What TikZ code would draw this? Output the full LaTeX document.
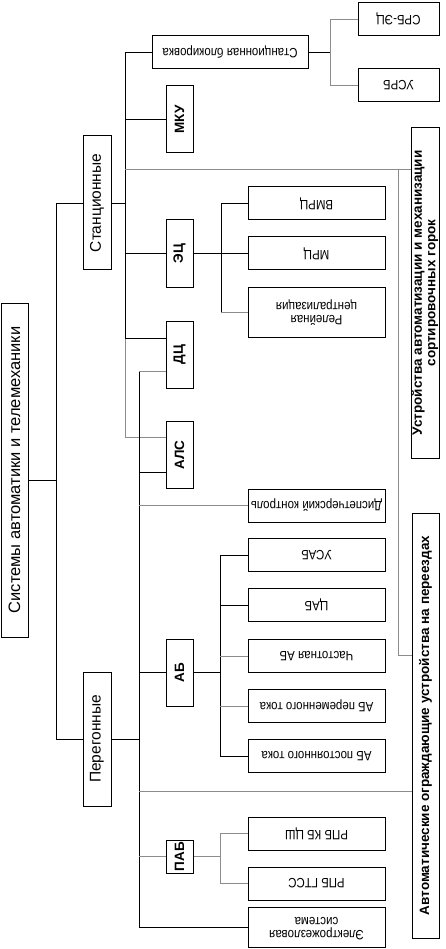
\documentclass[tikz,border=0pt]{standalone}
\usepackage{fontspec}
\setmainfont{Liberation Sans}
\newfontfamily\narrowfont[FakeStretch=0.85]{Liberation Sans}
\usepackage{graphicx}
\newcommand{\vtext}[1]{\rotatebox{90}{#1}}
\newcommand{\utext}[1]{\rotatebox{180}{#1}}
\newcommand{\twolines}[2]{\begin{tabular}{@{}c@{}}#1\\#2\end{tabular}}

\begin{document}
\begin{tikzpicture}[x=1pt, y=1pt,
        box/.style={draw, rectangle, inner sep=0pt, line width=1pt},
        rootbox/.style={box, minimum width=27, minimum height=334, font=\fontsize{16.5}{18}\selectfont},
        groupbox/.style={box, minimum width=28, minimum height=134, font=\fontsize{15.5}{17}\selectfont},
        sysbox/.style={box, minimum width=27, minimum height=67, font=\bfseries\fontsize{13.5}{15}\selectfont},
        leafbox/.style={box, minimum width=137, minimum height=33, font=\narrowfont\fontsize{13.5}{13}\selectfont},
        sidebox/.style={box, minimum width=27, font=\bfseries\fontsize{13.5}{13.5}\selectfont},
        link/.style={line width=0.8pt, black},
        glink/.style={line width=0.8pt, black!45}
    ]
        \useasboundingbox (0,0) rectangle (445,-949);

        % Корень
        \node[rootbox] (root) at (14.5,-470) {\vtext{Системы автоматики и телемеханики}};

        % Станционные и перегонные
        \node[groupbox] (stanc) at (97,-203) {\vtext{Станционные}};
        \node[groupbox] (pereg) at (97,-739) {\vtext{Перегонные}};

        % ---------------- СТАНЦИОННЫЕ ----------------
        \node[leafbox, minimum width=156] (sb) at (230,-52.5) {\utext{Станционная блокировка}};
        \node[leafbox, minimum width=81] (srbec) at (398.5,-19) {\utext{СРБ-ЭЦ}};
        \node[leafbox, minimum width=81] (usrb) at (398.5,-85.5) {\utext{УСРБ}};
        \node[sysbox] (mku) at (179.5,-119.5) {\vtext{МКУ}};
        \node[sysbox] (ec) at (179.5,-253.5) {\vtext{ЭЦ}};
        \node[leafbox] (vmrc) at (316.5,-203.5) {\utext{ВМРЦ}};
        \node[leafbox] (mrc) at (316.5,-253.5) {\utext{МРЦ}};
        \node[leafbox, minimum height=50] (rc) at (316.5,-312) {\utext{\twolines{Релейная}{централизация}}};
        \node[sysbox] (dc) at (179.5,-354.5) {\vtext{ДЦ}};
        \node[sysbox] (als) at (179.5,-455) {\vtext{АЛС}};

        % ---------------- ПЕРЕГОННЫЕ ----------------
        \node[leafbox] (disp) at (316.5,-505.5) {\utext{Диспетчерский контроль}};
        \node[sysbox] (ab) at (179.5,-672.5) {\vtext{АБ}};
        \node[leafbox] (usab) at (316.5,-555) {\utext{УСАБ}};
        \node[leafbox] (cab) at (316.5,-605) {\utext{ЦАБ}};
        \node[leafbox] (chab) at (316.5,-656) {\utext{Частотная АБ}};
        \node[leafbox] (abper) at (316.5,-706) {\utext{АБ переменного тока}};
        \node[leafbox] (abpost) at (316.5,-756) {\utext{АБ постоянного тока}};
        \node[sysbox, minimum height=33] (pab) at (179.5,-856.5) {\vtext{ПАБ}};
        \node[leafbox] (rpbkb) at (316.5,-833.5) {\utext{РПБ КБ ЦШ}};
        \node[leafbox] (rpbgt) at (316.5,-883.5) {\utext{РПБ ГТСС}};
        \node[leafbox, minimum height=40] (ejs) at (316.5,-927) {\utext{\twolines{Электрожезловая}{система}}};

        % Правые блоки
        \node[sidebox, minimum height=330] (gorki) at (425.5,-293) {\vtext{\twolines{Устройства автоматизации и механизации}{сортировочных горок}}};
        \node[sidebox, minimum height=425] (pereezd) at (425.5,-725.5) {\vtext{Автоматические ограждающие устройства на переездах}};

        % ================= ЛИНИИ =================
        \coordinate (t0) at (56,-480);
        \coordinate (ts) at (125,0);
        \coordinate (tp) at (139,0);
        \coordinate (tsb) at (330,0);
        \coordinate (tec) at (221,0);
        \coordinate (tab) at (220,0);
        \coordinate (tg) at (125,-169);
        \coordinate (tgd) at (398,-169);
        \coordinate (dcs) at ([yshift=16.5]dc.west);
        \coordinate (dcp) at ([yshift=-16.5]dc.west);
        \coordinate (alss) at ([yshift=18]als.west);
        \coordinate (alsp) at ([yshift=-17]als.west);
        \coordinate (pz1) at ([yshift=70.5]pereezd.west);
        \coordinate (pz2) at ([yshift=-65.5]pereezd.west);

        % Корень
        \draw[link] (root.east |- t0) -- (t0);
        \draw[link] (stanc.west -| t0) -- (pereg.west -| t0);
        \draw[link] (stanc.west -| t0) -- (stanc.west);
        \draw[link] (pereg.west -| t0) -- (pereg.west);

        % Станционные
        \draw[link] (stanc.east) -- (stanc.east -| ts);
        \draw[link] (sb.west -| ts) -- (dcs -| ts);
        \draw[glink] (dcs -| ts) -- (alss -| ts);
        \draw[link] (sb.west -| ts) -- (sb.west);
        \draw[link] (mku.west -| ts) -- (mku.west);
        \draw[link] (ec.west -| ts) -- (ec.west);
        \draw[link] (dcs -| ts) -- (dcs);
        \draw[glink] (alss -| ts) -- (alss);
        \draw[glink] (tg) -- (tg -| gorki.west);
        \draw[glink] (tgd) |- (pz1);

        % Станционная блокировка
        \draw[link] (sb.east) -- (sb.east -| tsb);
        \draw[glink] (srbec.west -| tsb) -- (usrb.west -| tsb);
        \draw[glink] (srbec.west -| tsb) -- (srbec.west);
        \draw[glink] (usrb.west -| tsb) -- (usrb.west);

        % ЭЦ
        \draw[link] (ec.east) -- (ec.east -| tec);
        \draw[link] (vmrc.west -| tec) -- (rc.west -| tec);
        \draw[link] (vmrc.west -| tec) -- (vmrc.west);
        \draw[link] (mrc.west -| tec) -- (mrc.west);
        \draw[glink] (rc.west -| tec) -- (rc.west);

        % Перегонные
        \draw[link] (pereg.east) -- (pereg.east -| tp);
        \draw[link] (dcp -| tp) -- (ejs.west -| tp);
        \draw[glink] (dcp -| tp) -- (dcp);
        \draw[link] (alsp -| tp) -- (alsp);
        \draw[glink] (disp.west -| tp) -- (disp.west);
        \draw[link] (ab.west -| tp) -- (ab.west);
        \draw[glink] (pz2 -| tp) -- (pz2);
        \draw[glink] (pab.west -| tp) -- (pab.west);
        \draw[link] (ejs.west -| tp) -- (ejs.west);

        % АБ
        \draw[link] (ab.east) -- (ab.east -| tab);
        \draw[link] (usab.west -| tab) -- (abpost.west -| tab);
        \draw[link] (usab.west -| tab) -- (usab.west);
        \draw[link] (cab.west -| tab) -- (cab.west);
        \draw[glink] (chab.west -| tab) -- (chab.west);
        \draw[glink] (abper.west -| tab) -- (abper.west);
        \draw[link] (abpost.west -| tab) -- (abpost.west);

        % ПАБ
        \draw[glink] (pab.east) -- (pab.east -| tab);
        \draw[glink] (rpbkb.west -| tab) -- (rpbgt.west -| tab);
        \draw[glink] (rpbkb.west -| tab) -- (rpbkb.west);
        \draw[glink] (rpbgt.west -| tab) -- (rpbgt.west);
\end{tikzpicture}
\end{document}
